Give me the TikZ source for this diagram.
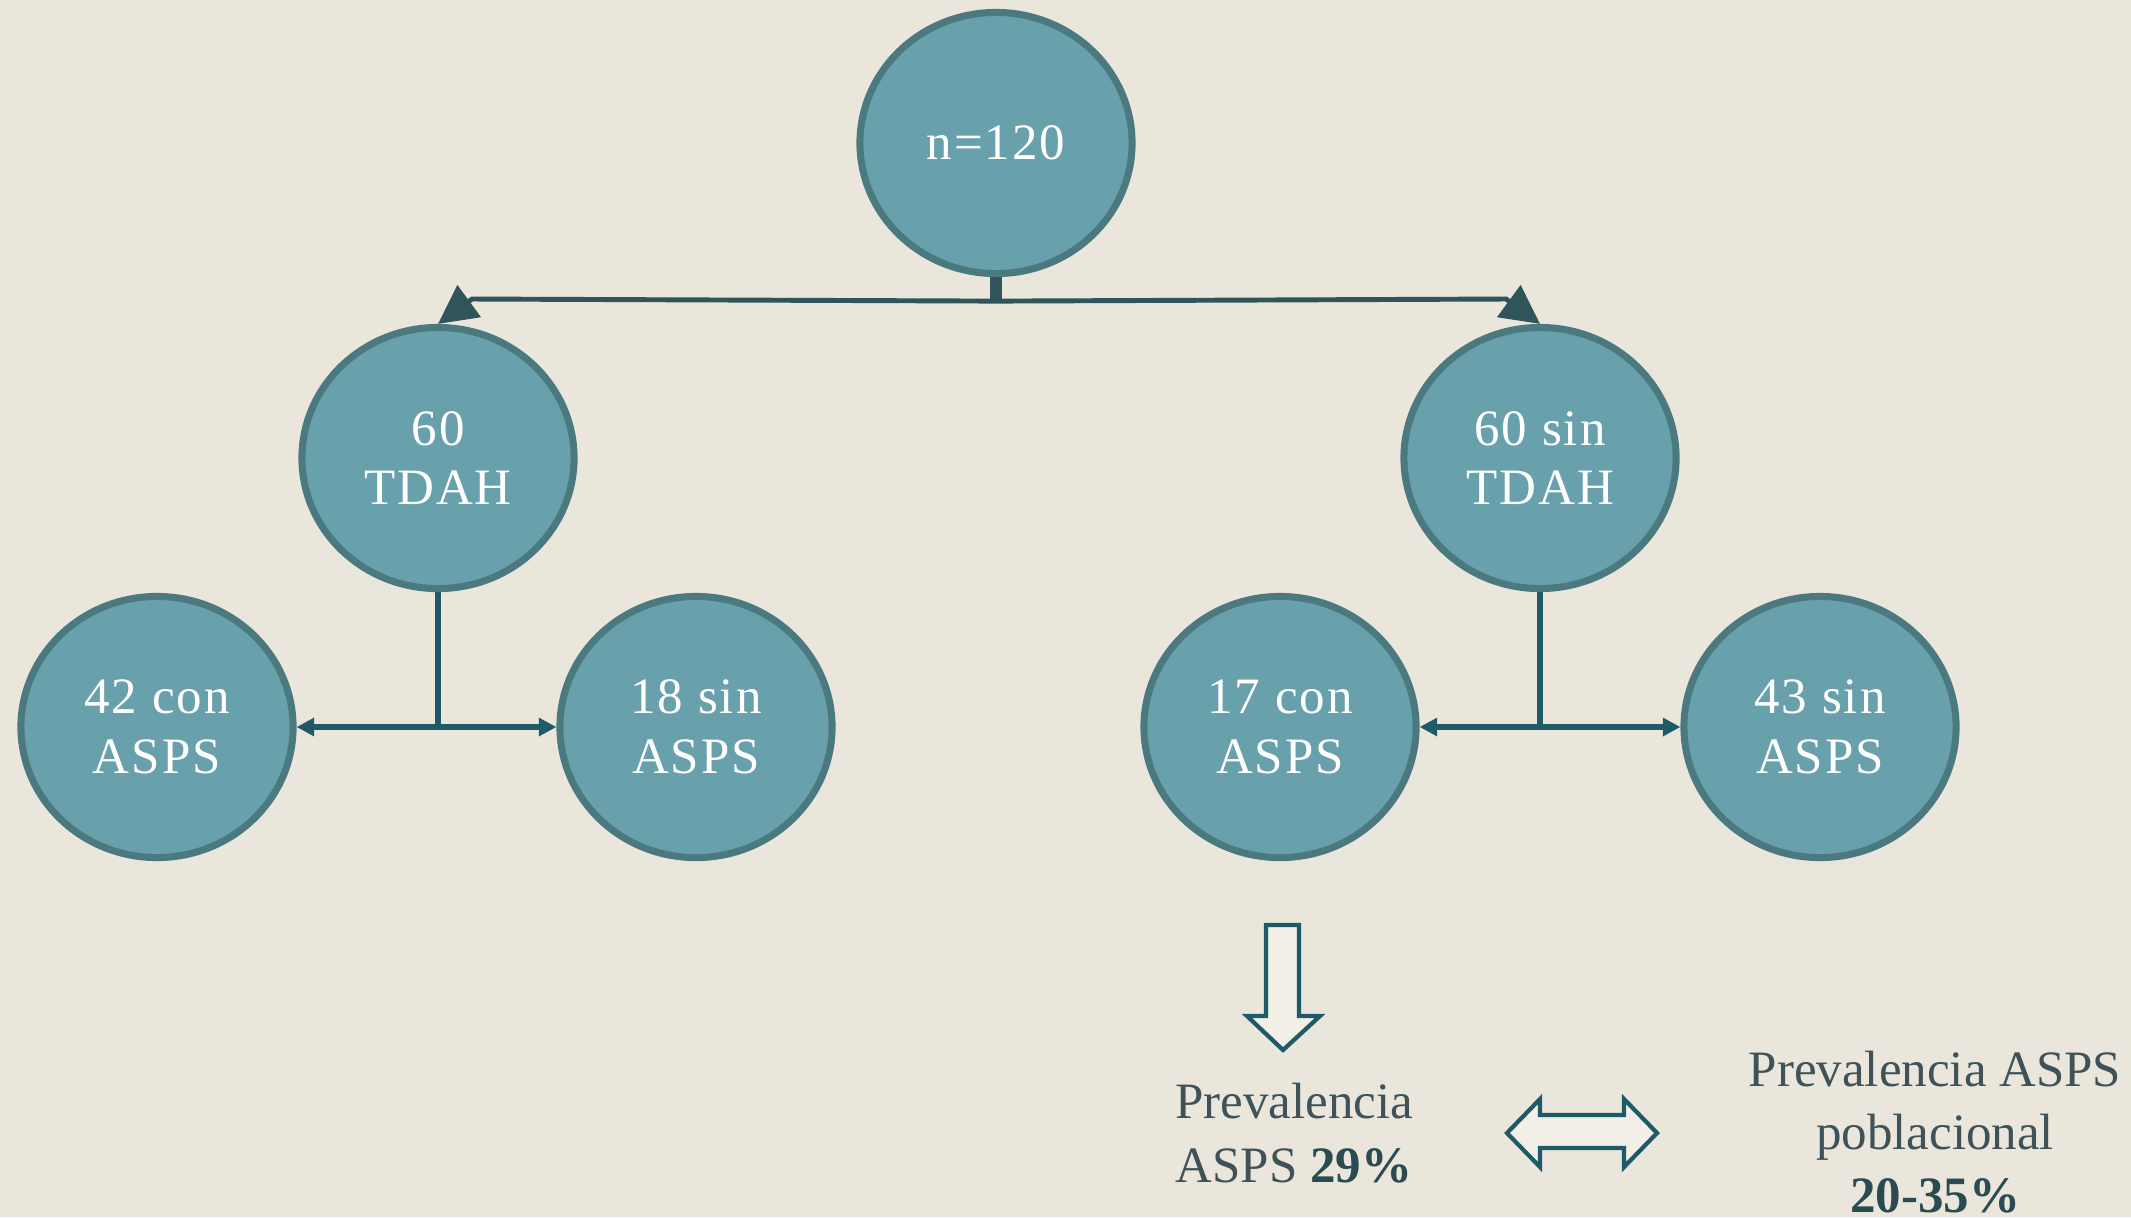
\documentclass[tikz,border=0pt]{standalone}
\usepackage{fontspec}
\setmainfont{Liberation Serif}
\newfontfamily\circfont[LetterSpace=4]{Liberation Serif}
\usetikzlibrary{shapes.geometric,arrows.meta,calc}
\definecolor{bgc}{HTML}{EAE6DC}
\definecolor{circc}{HTML}{68A0AC}
\definecolor{ringc}{HTML}{4B7980}
\definecolor{linec}{HTML}{2F5459}
\definecolor{lowc}{HTML}{1F5A68}
\definecolor{blkc}{HTML}{F2EFE6}
\definecolor{txtc}{HTML}{3E5257}
\definecolor{boldc}{HTML}{2A4B50}
\tikzset{grp/.style={ellipse,draw=ringc,fill=circc,line width=2pt,inner sep=0pt,minimum width=2.72cm,minimum height=2.61cm,text=white,font=\circfont\fontsize{14.5}{17}\selectfont,align=center},
  topln/.style={draw=linec,line width=1.4pt},lowln/.style={draw=lowc,line width=1.5pt},
  blk/.style={draw=lowc,fill=blkc,line width=1.2pt,line join=miter},
  txt/.style={text=txtc,font=\fontsize{14.5}{18}\selectfont,align=center}}

\begin{document}
\begin{tikzpicture}[x=0.01cm,y=-0.01cm]
  \fill[bgc] (0,0) rectangle (2131,1217);
  \useasboundingbox (0,0) rectangle (2131,1217);
  \node[grp] (n0) at (996,143) {n=120};
  \node[grp] (t1) at (438,458) {60\\TDAH};\node[grp] (t2) at (1540,458) {60 sin\\TDAH};
  \node[grp] (a1) at (157,727) {42 con\\ASPS};\node[grp] (s1) at (696,727) {18 sin\\ASPS};
  \node[grp] (a2) at (1280,727) {17 con\\ASPS};\node[grp] (s2) at (1820,727) {43 sin\\ASPS};
  \node[txt] (p1) at (1294,1133) {Prevalencia\\ASPS \textbf{\color{boldc}29\%}};
  \node[txt] (p2) at (1935,1132) {Prevalencia ASPS\\poblacional\\\textbf{\color{boldc}20-35\%}};
  % top split
  \draw[topln,line width=3.4pt] (n0.south) -- ++(0,24) coordinate (j0);
  \draw[topln,-{Triangle[length=11pt,width=11pt]}] (j0) -- (472,299) -- (t1.north);
  \draw[topln,-{Triangle[length=11pt,width=11pt]}] (j0) -- (1506,299) -- (t2.north);
  % lower splits
  \draw[lowln] (t1.south) -- (t1 |- a1.east) (t2.south) -- (t2 |- a2.east);
  \draw[lowln,{Triangle[length=5pt,width=5pt]}-{Triangle[length=5pt,width=5pt]}] (a1.east) -- (s1.west);
  \draw[lowln,{Triangle[length=5pt,width=5pt]}-{Triangle[length=5pt,width=5pt]}] (a2.east) -- (s2.west);
  % block arrows
  \draw[blk] (1266,925) -- (1299,925) -- (1299,1016) -- (1320,1016) -- (1283,1050) -- (1247,1016) -- (1266,1016) -- cycle;
  \draw[blk] (1507,1133) -- (1540,1099) -- (1540,1115) -- (1624,1115) -- (1624,1099) -- (1657,1133) -- (1624,1167) -- (1624,1148) -- (1540,1148) -- (1540,1167) -- cycle;
\end{tikzpicture}
\end{document}
